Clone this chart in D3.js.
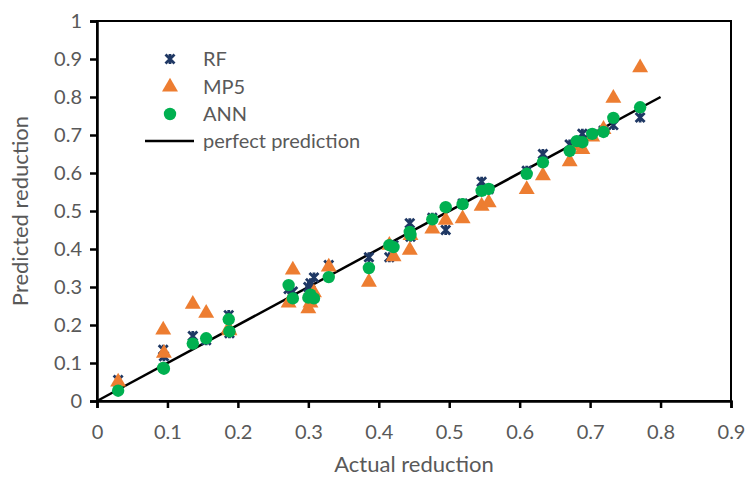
<!DOCTYPE html>
<html>
<head>
<meta charset="utf-8">
<script src="https://cdn.jsdelivr.net/npm/d3@7"></script>
<style>
  html, body { margin: 0; padding: 0; background: #fff; }
  svg { display: block; }
  text { font-family: Lato, "Open Sans", sans-serif; fill: #595959; }
</style>
</head>
<body>
<svg id="chart" width="748" height="479"></svg>
<script>
// Data
const actual = [0.030, 0.094, 0.095, 0.136, 0.155, 0.187, 0.188, 0.272, 0.278, 0.300, 0.303, 0.308,
                0.329, 0.386, 0.415, 0.421, 0.444, 0.445, 0.476, 0.495, 0.519, 0.546, 0.556, 0.610,
                0.633, 0.671, 0.681, 0.689, 0.703, 0.719, 0.733, 0.771];
const rf     = [0.055, 0.135, 0.118, 0.171, 0.160, 0.226, 0.178, 0.295, 0.288, 0.300, 0.310, 0.325,
                0.358, 0.378, 0.378, 0.410, 0.468, 0.432, 0.482, 0.450, 0.520, 0.577, 0.557, 0.606,
                0.650, 0.675, 0.680, 0.703, 0.702, 0.712, 0.726, 0.746];
const mp5    = [0.050, 0.187, 0.126, 0.255, 0.231, 0.190, 0.185, 0.258, 0.345, 0.243, 0.258, 0.285,
                0.353, 0.313, 0.410, 0.380, 0.397, 0.436, 0.453, 0.476, 0.480, 0.513, 0.522, 0.557,
                0.593, 0.630, 0.672, 0.662, 0.695, 0.715, 0.797, 0.877];
const ann    = [0.027, 0.087, 0.085, 0.151, 0.165, 0.215, 0.183, 0.305, 0.270, 0.272, 0.280, 0.270,
                0.326, 0.350, 0.410, 0.405, 0.445, 0.437, 0.478, 0.510, 0.518, 0.553, 0.558, 0.598,
                0.628, 0.658, 0.684, 0.681, 0.703, 0.708, 0.745, 0.773];
const perfectLine = [[0, 0], [0.8, 0.8]];
const xTicks = [0, 0.1, 0.2, 0.3, 0.4, 0.5, 0.6, 0.7, 0.8, 0.9];
const yTicks = [0, 0.1, 0.2, 0.3, 0.4, 0.5, 0.6, 0.7, 0.8, 0.9, 1];
const legendLabels = ["RF", "MP5", "ANN", "perfect prediction"];

const colors = { rf: "#1F3864", mp5: "#ED7D31", ann: "#00B050", line: "#000" };

const svg = d3.select("#chart");
const m = { left: 97, top: 21, right: 731, bottom: 401 };
const x = d3.scaleLinear().domain([0, 0.9]).range([m.left, m.right]);
const y = d3.scaleLinear().domain([0, 1]).range([m.bottom, m.top]);

// Frame (top/right)
svg.append("rect")
  .attr("x", m.left).attr("y", m.top)
  .attr("width", m.right - m.left).attr("height", m.bottom - m.top)
  .attr("fill", "none").attr("stroke", "#000").attr("stroke-width", 2);

// Axes
const xAxis = svg.append("g").attr("transform", `translate(0,${m.bottom})`)
  .call(d3.axisBottom(x).tickValues(xTicks).tickSize(7).tickPadding(17)
    .tickFormat(d => d === 0 ? "0" : d3.format(".1f")(d)));
const yAxis = svg.append("g").attr("transform", `translate(${m.left},0)`)
  .call(d3.axisLeft(y).tickValues(yTicks).tickSize(7).tickPadding(8)
    .tickFormat(d => (d === 0 || d === 1) ? String(d) : d3.format(".1f")(d)));
[xAxis, yAxis].forEach(g => {
  g.select(".domain").attr("stroke", "#000").attr("stroke-width", 2.5);
  g.selectAll(".tick line").attr("stroke", "#000").attr("stroke-width", 2.5);
  g.selectAll(".tick text").style("font-size", "20px").attr("fill", "#595959");
});

// Axis titles
svg.append("text").attr("x", 414).attr("y", 472)
  .attr("text-anchor", "middle").style("font-size", "22px").text("Actual reduction");
svg.append("text")
  .attr("transform", `translate(28,${(m.top + m.bottom) / 2}) rotate(-90)`)
  .attr("text-anchor", "middle").style("font-size", "22px").text("Predicted reduction");

// Perfect prediction line
svg.append("path")
  .datum(perfectLine)
  .attr("d", d3.line().x(d => x(d[0])).y(d => y(d[1])))
  .attr("stroke", colors.line).attr("stroke-width", 2.5).attr("fill", "none");

// Marker helpers
function drawRF(g, cx, cy) {
  g.append("path").attr("transform", `translate(${cx},${cy})`)
    .attr("d", "M-4.5,-4.5L4.5,4.5M-4.5,4.5L4.5,-4.5M0,-5L0,5")
    .attr("stroke", colors.rf).attr("stroke-width", 2.8).attr("fill", "none");
}
const triSym = d3.symbol().type(d3.symbolTriangle).size(110);
function drawMP5(g, cx, cy) {
  g.append("path").attr("transform", `translate(${cx},${cy})`)
    .attr("d", triSym()).attr("fill", colors.mp5);
}
function drawANN(g, cx, cy) {
  g.append("circle").attr("cx", cx).attr("cy", cy).attr("r", 6.2).attr("fill", colors.ann);
}

const pts = svg.append("g");
actual.forEach((a, i) => drawRF(pts, x(a), y(rf[i])));
actual.forEach((a, i) => drawMP5(pts, x(a), y(mp5[i])));
actual.forEach((a, i) => drawANN(pts, x(a), y(ann[i])));

// Legend
const lg = svg.append("g");
const ly = [59, 87, 114, 141];
drawRF(lg, 170, ly[0]);
drawMP5(lg, 170, ly[1]);
drawANN(lg, 170, ly[2]);
lg.append("line").attr("x1", 145).attr("x2", 194).attr("y1", ly[3]).attr("y2", ly[3])
  .attr("stroke", "#000").attr("stroke-width", 2.5);
legendLabels.forEach((t, i) => {
  lg.append("text").attr("x", 203).attr("y", ly[i]).attr("dy", "0.35em")
    .style("font-size", "20px").text(t);
});
</script>
</body>
</html>
